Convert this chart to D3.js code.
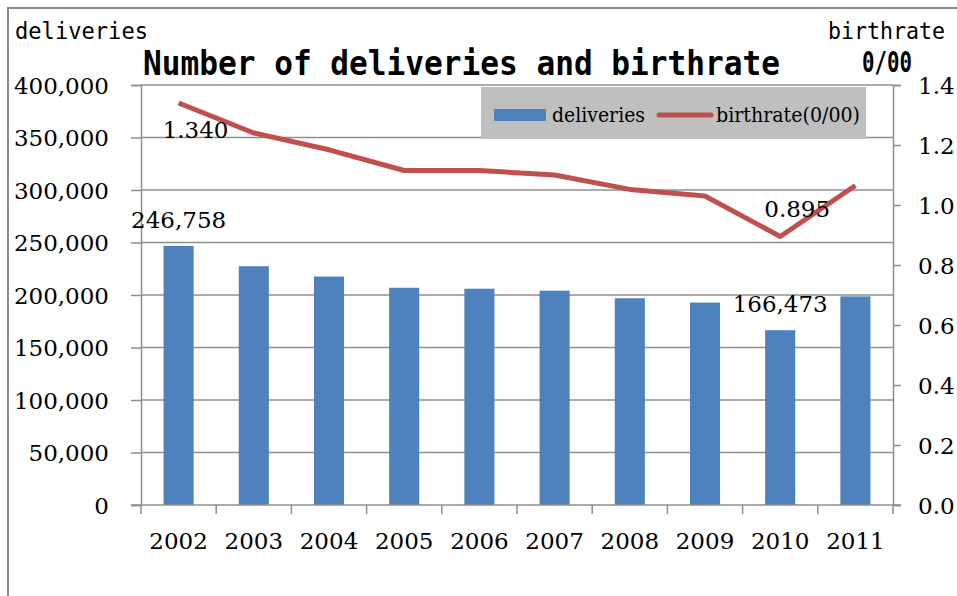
<!DOCTYPE html>
<html>
<head>
<meta charset="utf-8">
<script src="https://cdn.jsdelivr.net/npm/d3@7/dist/d3.min.js"></script>
<style>
html,body{margin:0;padding:0;background:#fff;}
svg{display:block;}
</style>
</head>
<body>
<svg id="chart" width="957" height="596"></svg>
<script>
const years = ["2002","2003","2004","2005","2006","2007","2008","2009","2010","2011"];
const deliveries = [246758, 227400, 217600, 206900, 206000, 204100, 196900, 192800, 166473, 198700];
const birthrate = [1.340, 1.240, 1.184, 1.115, 1.115, 1.100, 1.052, 1.030, 0.895, 1.065];
const leftTicks = [0, 50000, 100000, 150000, 200000, 250000, 300000, 350000, 400000];
const rightTicks = [0, 0.2, 0.4, 0.6, 0.8, 1.0, 1.2, 1.4];
const barLabels = [{year:"2002", value:246758, text:"246,758"}, {year:"2010", value:166473, text:"166,473"}];
const lineLabels = [{year:"2002", value:1.340, text:"1.340", dx:17, dy:35}, {year:"2010", value:0.895, text:"0.895", dx:17, dy:-20}];

const svg = d3.select("#chart");
const L = 141, R = 893, T = 85, B = 505;
const serif = "'DejaVu Serif', serif";
const mono = "'DejaVu Sans Mono', monospace";
const gridColor = "#8f8f8f";

const x = d3.scaleBand().domain(years).range([L, R]).paddingInner(0.6).paddingOuter(0.3);
const yL = d3.scaleLinear().domain([0, 400000]).range([B, T]);
const yR = d3.scaleLinear().domain([0, 1.4]).range([B, T]);

// outer frame
svg.append("path").attr("d", `M8,596 L8,8 L957,8`).attr("fill","none").attr("stroke","#8a8a8a").attr("stroke-width",2);

// gridlines
svg.append("g").selectAll("line").data(leftTicks.filter(d => d > 0)).join("line")
  .attr("x1", L).attr("x2", R).attr("y1", d => yL(d)).attr("y2", d => yL(d))
  .attr("stroke", gridColor).attr("stroke-width", 1.5);

// bars
svg.append("g").selectAll("rect").data(years).join("rect")
  .attr("x", d => x(d)).attr("width", x.bandwidth())
  .attr("y", (d,i) => yL(deliveries[i])).attr("height", (d,i) => B - yL(deliveries[i]))
  .attr("fill", "#4f81bd");

// left axis
const gL = svg.append("g").attr("transform", `translate(${L},0)`)
  .call(d3.axisLeft(yL).tickValues(leftTicks).tickSize(10).tickPadding(22).tickFormat(d3.format(",")));
// right axis
const gR = svg.append("g").attr("transform", `translate(${R},0)`)
  .call(d3.axisRight(yR).tickValues(rightTicks).tickSize(8).tickPadding(17).tickFormat(d3.format(".1f")));
[gL, gR].forEach(g => {
  g.select(".domain").attr("stroke", gridColor).attr("stroke-width", 1.5);
  g.selectAll(".tick line").attr("stroke", gridColor).attr("stroke-width", 1.5);
  g.selectAll("text").attr("font-family", serif).attr("font-size", 23).attr("fill", "#000").attr("dy", "0.36em");
});

// bottom axis
svg.append("line").attr("x1", L - 10).attr("x2", R + 8).attr("y1", B).attr("y2", B)
  .attr("stroke", gridColor).attr("stroke-width", 1.5);
const bounds = d3.range(years.length + 1).map(i => L + i * x.step());
svg.append("g").selectAll("line").data(bounds).join("line")
  .attr("x1", d => d).attr("x2", d => d).attr("y1", B).attr("y2", B + 9)
  .attr("stroke", gridColor).attr("stroke-width", 1.5);
const gB = svg.append("g").attr("transform", `translate(0,${B})`)
  .call(d3.axisBottom(x).tickSize(0).tickPadding(28));
gB.select(".domain").remove();
gB.selectAll("text").attr("font-family", serif).attr("font-size", 23).attr("fill", "#000");

// line
const line = d3.line().x((d,i) => x(years[i]) + x.bandwidth()/2).y(d => yR(d));
svg.append("path").datum(birthrate).attr("d", line).attr("fill","none")
  .attr("stroke", "#c0504d").attr("stroke-width", 5).attr("stroke-linejoin","round");

// data labels
svg.append("g").selectAll("text").data(barLabels).join("text")
  .attr("x", d => x(d.year) + x.bandwidth()/2).attr("y", d => yL(d.value) - 18)
  .attr("text-anchor","middle").attr("font-family", serif).attr("font-size", 23).text(d => d.text);
svg.append("g").selectAll("text").data(lineLabels).join("text")
  .attr("x", d => x(d.year) + x.bandwidth()/2 + d.dx).attr("y", d => yR(d.value) + d.dy)
  .attr("text-anchor","middle").attr("font-family", serif).attr("font-size", 23).text(d => d.text);

// legend
const lg = svg.append("g");
lg.append("rect").attr("x", 481).attr("y", 87).attr("width", 385).attr("height", 52).attr("fill", "#bfbfbf");
lg.append("rect").attr("x", 494).attr("y", 109).attr("width", 52).attr("height", 12).attr("fill", "#4f81bd");
lg.append("text").attr("x", 552).attr("y", 122).attr("font-family", serif).attr("font-size", 20)
  .attr("textLength", 93).attr("lengthAdjust","spacingAndGlyphs").text("deliveries");
lg.append("line").attr("x1", 659).attr("x2", 711).attr("y1", 115).attr("y2", 115)
  .attr("stroke", "#c0504d").attr("stroke-width", 5).attr("stroke-linecap","round");
lg.append("text").attr("x", 716).attr("y", 122).attr("font-family", serif).attr("font-size", 20)
  .attr("textLength", 144).attr("lengthAdjust","spacingAndGlyphs").text("birthrate(0/00)");

// titles
svg.append("text").attr("x", 15).attr("y", 39).attr("font-family", mono).attr("font-size", 23)
  .attr("textLength", 133).attr("lengthAdjust","spacingAndGlyphs").text("deliveries");
svg.append("text").attr("x", 828).attr("y", 39).attr("font-family", mono).attr("font-size", 23)
  .attr("textLength", 117).attr("lengthAdjust","spacingAndGlyphs").text("birthrate");
svg.append("text").attr("x", 862).attr("y", 72).attr("font-family", mono).attr("font-size", 29).attr("font-weight","bold")
  .attr("textLength", 50).attr("lengthAdjust","spacingAndGlyphs").text("0/00");
svg.append("text").attr("x", 143).attr("y", 75).attr("font-family", mono).attr("font-size", 33).attr("font-weight","bold")
  .attr("textLength", 637).attr("lengthAdjust","spacingAndGlyphs").text("Number of deliveries and birthrate");
</script>
</body>
</html>
